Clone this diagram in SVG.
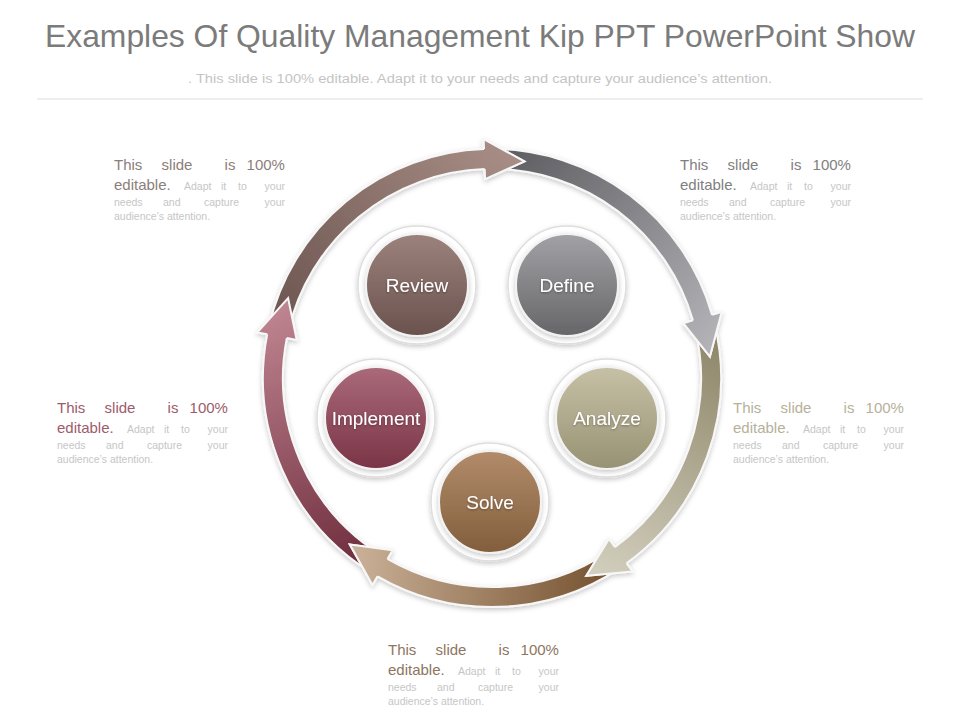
<svg xmlns="http://www.w3.org/2000/svg" width="960" height="720" viewBox="0 0 960 720">
<style>
text{font-family:"Liberation Sans",Arial,sans-serif}
.title{font-size:32px;fill:#7b7b7b}
.sub{font-size:12.5px;fill:#c4c4c4}
.big{font-size:15px}
.sm{font-size:10.5px;fill:#c6c6c6}
.lbl{font-size:19px;fill:#ffffff;text-anchor:middle}
.arrow{stroke:#f7f7f7;stroke-width:2;stroke-linejoin:miter}
.ring{fill:#ffffff;stroke:#dedede;stroke-width:1.5}
.core{stroke:#f2f2f2;stroke-width:2}
</style>
<defs>
<filter id="sh" x="-20%" y="-20%" width="140%" height="140%"><feDropShadow dx="0" dy="2" stdDeviation="2.5" flood-color="#000" flood-opacity="0.22"/></filter>
<filter id="tsh" x="-10%" y="-30%" width="120%" height="160%"><feDropShadow dx="0" dy="1" stdDeviation="0.8" flood-color="#000" flood-opacity="0.35"/></filter>
<linearGradient id="gPink" gradientUnits="userSpaceOnUse" x1="375" y1="565" x2="285" y2="300"><stop offset="0" stop-color="#6e2c3c"/><stop offset="1" stop-color="#c08692"/></linearGradient>
<linearGradient id="gMauve" gradientUnits="userSpaceOnUse" x1="275" y1="330" x2="520" y2="158"><stop offset="0" stop-color="#6c5550"/><stop offset="1" stop-color="#a88e86"/></linearGradient>
<linearGradient id="gGray" gradientUnits="userSpaceOnUse" x1="495" y1="158" x2="712" y2="350"><stop offset="0" stop-color="#5c5c60"/><stop offset="1" stop-color="#b4b4b8"/></linearGradient>
<linearGradient id="gKhaki" gradientUnits="userSpaceOnUse" x1="712" y1="325" x2="590" y2="575"><stop offset="0" stop-color="#8c8466"/><stop offset="1" stop-color="#d2cfbe"/></linearGradient>
<linearGradient id="gTan" gradientUnits="userSpaceOnUse" x1="615" y1="560" x2="350" y2="548"><stop offset="0" stop-color="#74502e"/><stop offset="1" stop-color="#cbb299"/></linearGradient>
<linearGradient id="nReview" x1="0" y1="0" x2="0" y2="1"><stop offset="0" stop-color="#9c827c"/><stop offset="1" stop-color="#6a524e"/></linearGradient>
<linearGradient id="nDefine" x1="0" y1="0" x2="0" y2="1"><stop offset="0" stop-color="#a2a2a6"/><stop offset="1" stop-color="#666669"/></linearGradient>
<linearGradient id="nImplement" x1="0" y1="0" x2="0" y2="1"><stop offset="0" stop-color="#aa6a7a"/><stop offset="1" stop-color="#7a3446"/></linearGradient>
<linearGradient id="nAnalyze" x1="0" y1="0" x2="0" y2="1"><stop offset="0" stop-color="#c6c1a6"/><stop offset="1" stop-color="#989274"/></linearGradient>
<linearGradient id="nSolve" x1="0" y1="0" x2="0" y2="1"><stop offset="0" stop-color="#b28c6a"/><stop offset="1" stop-color="#825e3c"/></linearGradient>
</defs>
<rect width="960" height="720" fill="#ffffff"/>
<g id="header">
<text class="title" x="480" y="47" text-anchor="middle" textLength="870" lengthAdjust="spacingAndGlyphs">Examples Of Quality Management Kip PPT PowerPoint Show</text>
<text class="sub" x="480" y="83" text-anchor="middle" textLength="584" lengthAdjust="spacingAndGlyphs">. This slide is 100% editable. Adapt it to your needs and capture your audience’s attention.</text>
<line x1="37" y1="99" x2="923" y2="99" stroke="#dcdcdc" stroke-width="1"/>
</g>
<g id="connectors">
<g filter="url(#sh)">
<path class="arrow" fill="url(#gPink)" d="M370.65,572.2 A229,229 0 0 1 267.2,334.3 L257.4,332.4 L288.1,298.1 L296.7,340.0 L286.8,338.1 A209,209 0 0 0 381.25,555.2 Z"/>
<path class="arrow" fill="url(#gTan)" d="M620.1,567.8 A229,229 0 0 1 377.5,576.3 L372.5,585.0 L349.8,544.5 L392.5,550.3 L387.5,559.0 A209,209 0 0 0 608.9,551.3 Z"/>
<path class="arrow" fill="url(#gKhaki)" d="M714.2,322.6 A229,229 0 0 1 626.6,563.3 L632.5,571.4 L586.3,575.7 L609.0,539.0 L614.9,547.1 A209,209 0 0 0 694.8,327.4 Z"/>
<path class="arrow" fill="url(#gGray)" d="M492,149 A229,229 0 0 1 712.1,314.9 L721.7,312.1 L709.9,356.6 L683.3,323.2 L692.9,320.4 A209,209 0 0 0 492,169 Z"/>
<path class="arrow" fill="url(#gMauve)" d="M268.9,326.5 A229,229 0 0 1 484.0,149.1 L483.7,139.1 L524.4,161.4 L485.1,179.1 L484.7,169.1 A209,209 0 0 0 288.4,331.0 Z"/>
</g>
<g>
<path class="arrow" fill="url(#gPink)" d="M267.2,334.3 L257.4,332.4 L288.1,298.1 L296.7,340.0 L286.8,338.1"/>
<path class="arrow" fill="url(#gMauve)" d="M484.0,149.1 L483.7,139.1 L524.4,161.4 L485.1,179.1 L484.7,169.1"/>
<path class="arrow" fill="url(#gGray)" d="M712.1,314.9 L721.7,312.1 L709.9,356.6 L683.3,323.2 L692.9,320.4"/>
<path class="arrow" fill="url(#gKhaki)" d="M626.6,563.3 L632.5,571.4 L586.3,575.7 L609.0,539.0 L614.9,547.1"/>
<path class="arrow" fill="url(#gTan)" d="M377.5,576.3 L372.5,585.0 L349.8,544.5 L392.5,550.3 L387.5,559.0"/>
</g>
</g>
<g id="node-review">
<circle class="ring" cx="417" cy="285" r="59" filter="url(#sh)"/>
<circle class="core" cx="417" cy="285" r="51" fill="url(#nReview)" filter="url(#sh)"/>
<text class="lbl" x="417" y="292" filter="url(#tsh)">Review</text>
</g>
<g id="node-define">
<circle class="ring" cx="567" cy="285" r="59" filter="url(#sh)"/>
<circle class="core" cx="567" cy="285" r="51" fill="url(#nDefine)" filter="url(#sh)"/>
<text class="lbl" x="567" y="292" filter="url(#tsh)">Define</text>
</g>
<g id="node-implement">
<circle class="ring" cx="376" cy="418" r="59" filter="url(#sh)"/>
<circle class="core" cx="376" cy="418" r="51" fill="url(#nImplement)" filter="url(#sh)"/>
<text class="lbl" x="376" y="425" filter="url(#tsh)">Implement</text>
</g>
<g id="node-analyze">
<circle class="ring" cx="607" cy="418" r="59" filter="url(#sh)"/>
<circle class="core" cx="607" cy="418" r="51" fill="url(#nAnalyze)" filter="url(#sh)"/>
<text class="lbl" x="607" y="425" filter="url(#tsh)">Analyze</text>
</g>
<g id="node-solve">
<circle class="ring" cx="490" cy="502" r="59" filter="url(#sh)"/>
<circle class="core" cx="490" cy="502" r="51" fill="url(#nSolve)" filter="url(#sh)"/>
<text class="lbl" x="490" y="509" filter="url(#tsh)">Solve</text>
</g>
<g id="note-top-left" transform="translate(114,169.5)" fill="#8c7e7a">
<text class="big" y="0"><tspan x="0">This</tspan><tspan x="47.6">slide</tspan><tspan x="110.6">is</tspan><tspan x="132.6">100%</tspan></text>
<text class="sm" y="20"><tspan class="big" x="0" fill="#8c7e7a">editable.</tspan><tspan x="70">Adapt</tspan><tspan x="107">it</tspan><tspan x="124">to</tspan><tspan x="150.6">your</tspan></text>
<text class="sm" y="36"><tspan x="0">needs</tspan><tspan x="49">and</tspan><tspan x="90">capture</tspan><tspan x="150.6">your</tspan></text>
<text class="sm" y="50">audience’s attention.</text>
</g>
<g id="note-top-right" transform="translate(680,169.5)" fill="#808080">
<text class="big" y="0"><tspan x="0">This</tspan><tspan x="47.6">slide</tspan><tspan x="110.6">is</tspan><tspan x="132.6">100%</tspan></text>
<text class="sm" y="20"><tspan class="big" x="0" fill="#808080">editable.</tspan><tspan x="70">Adapt</tspan><tspan x="107">it</tspan><tspan x="124">to</tspan><tspan x="150.6">your</tspan></text>
<text class="sm" y="36"><tspan x="0">needs</tspan><tspan x="49">and</tspan><tspan x="90">capture</tspan><tspan x="150.6">your</tspan></text>
<text class="sm" y="50">audience’s attention.</text>
</g>
<g id="note-left" transform="translate(57,413)" fill="#9c5c6c">
<text class="big" y="0"><tspan x="0">This</tspan><tspan x="47.6">slide</tspan><tspan x="110.6">is</tspan><tspan x="132.6">100%</tspan></text>
<text class="sm" y="20"><tspan class="big" x="0" fill="#9c5c6c">editable.</tspan><tspan x="70">Adapt</tspan><tspan x="107">it</tspan><tspan x="124">to</tspan><tspan x="150.6">your</tspan></text>
<text class="sm" y="36"><tspan x="0">needs</tspan><tspan x="49">and</tspan><tspan x="90">capture</tspan><tspan x="150.6">your</tspan></text>
<text class="sm" y="50">audience’s attention.</text>
</g>
<g id="note-right" transform="translate(733,413)" fill="#b6b19a">
<text class="big" y="0"><tspan x="0">This</tspan><tspan x="47.6">slide</tspan><tspan x="110.6">is</tspan><tspan x="132.6">100%</tspan></text>
<text class="sm" y="20"><tspan class="big" x="0" fill="#b6b19a">editable.</tspan><tspan x="70">Adapt</tspan><tspan x="107">it</tspan><tspan x="124">to</tspan><tspan x="150.6">your</tspan></text>
<text class="sm" y="36"><tspan x="0">needs</tspan><tspan x="49">and</tspan><tspan x="90">capture</tspan><tspan x="150.6">your</tspan></text>
<text class="sm" y="50">audience’s attention.</text>
</g>
<g id="note-bottom" transform="translate(388,655)" fill="#8d7660">
<text class="big" y="0"><tspan x="0">This</tspan><tspan x="47.6">slide</tspan><tspan x="110.6">is</tspan><tspan x="132.6">100%</tspan></text>
<text class="sm" y="20"><tspan class="big" x="0" fill="#8d7660">editable.</tspan><tspan x="70">Adapt</tspan><tspan x="107">it</tspan><tspan x="124">to</tspan><tspan x="150.6">your</tspan></text>
<text class="sm" y="36"><tspan x="0">needs</tspan><tspan x="49">and</tspan><tspan x="90">capture</tspan><tspan x="150.6">your</tspan></text>
<text class="sm" y="50">audience’s attention.</text>
</g>
</svg>
